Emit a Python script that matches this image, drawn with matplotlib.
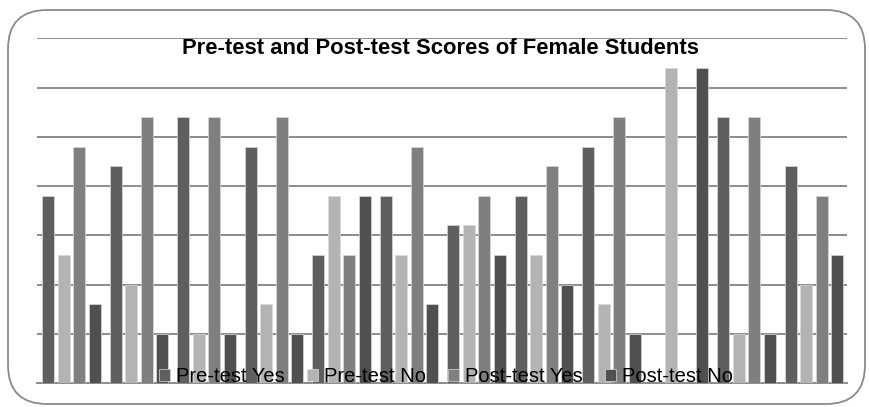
import matplotlib
matplotlib.use('Agg')
import matplotlib.pyplot as plt
import numpy as np
from matplotlib.patches import FancyBboxPatch

plt.rcParams['font.family'] = ['Liberation Sans', 'DejaVu Sans']

# scores per group (12 groups)
pre_yes = [19, 22, 27, 24, 13, 19, 16, 19, 24, 0, 27, 22]
pre_no = [13, 10, 5, 8, 19, 13, 16, 13, 8, 32, 5, 10]
post_yes = [24, 27, 27, 27, 13, 24, 19, 22, 27, 0, 27, 19]
post_no = [8, 5, 5, 5, 19, 8, 13, 10, 5, 32, 5, 13]

series = ['Pre-test Yes', 'Pre-test No', 'Post-test Yes', 'Post-test No']
colors = ['#5f5f5f', '#b3b3b3', '#7f7f7f', '#505050']

W, H = 869, 407
fig = plt.figure(figsize=(W / 100, H / 100), dpi=100)

# rounded chart border
border = FancyBboxPatch((8 / W, 3 / H), 857 / W, 394 / H,
                        boxstyle='round,pad=0,rounding_size=0.045',
                        transform=fig.transFigure, facecolor='none',
                        edgecolor='#8a8a8a', linewidth=1.3, mutation_aspect=W / H)
fig.patches.append(border)

ax = fig.add_axes([37 / W, 24 / H, 810 / W, (383 - 38.3) / H])

x = np.arange(len(pre_yes))
slot = 0.23
width = 0.178
for j, vals in enumerate([pre_yes, pre_no, post_yes, post_no]):
    ax.bar(x + (j - 1.5) * slot + 0.01, vals, width, color=colors[j],
           edgecolor='#d8d8d8', linewidth=0.5, label=series[j], zorder=3)

ax.set_xlim(-0.5, len(pre_yes) - 0.5)
ax.set_ylim(0, 35)
ax.set_yticks(np.arange(0, 36, 5))
ax.yaxis.grid(True, color='#8c8c8c', linewidth=1.4)
ax.set_axisbelow(True)
ax.tick_params(left=False, bottom=False, labelleft=False, labelbottom=False)
for s in ['top', 'right', 'left']:
    ax.spines[s].set_visible(False)
ax.spines['bottom'].set_color('#8c8c8c')
ax.spines['bottom'].set_linewidth(1.4)

fig.text(441 / W, 1 - 48 / H, 'Pre-test and Post-test Scores of Female Students',
         ha='center', va='center', fontsize=15.8, fontweight='bold')

ax.legend(loc='lower center', bbox_to_anchor=(0.505, -0.01), ncol=4, frameon=False,
          fontsize=14.5, handlelength=0.55, handleheight=0.55, handletextpad=0.3,
          columnspacing=1.1, borderpad=0, borderaxespad=0)

fig.savefig('out.png', dpi=100)
